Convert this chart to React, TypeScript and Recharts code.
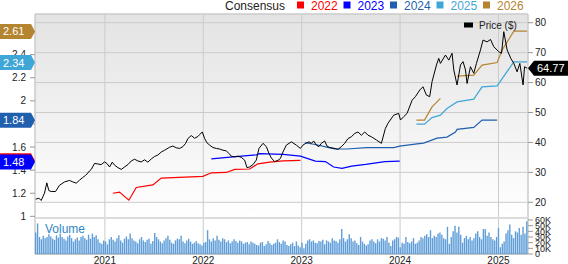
import { ComposedChart, Line, Bar, XAxis, YAxis, CartesianGrid, ReferenceLine } from 'recharts';

const FONT = '"Liberation Sans", Arial, sans-serif';

const yearTicks = [2021, 2022, 2023, 2024, 2025];
const priceTicks = [20, 30, 40, 50, 60, 70, 80];
const epsTicks = [1, 1.2, 1.4, 1.6, 1.8, 2, 2.2, 2.4, 2.6];
// these tick labels sit fully under the latest-estimate tags
const epsTicksUnderTags = [1.8, 2.6];
const volumeTicks = [0, 10000, 20000, 30000, 40000, 50000, 60000];

// [decimal year, closing price]
const price: [number, number][] = [
  [2020.295, 21.0], [2020.329, 21.4], [2020.353, 20.6], [2020.387, 23.1], [2020.41, 26.5], [2020.431, 23.9],
  [2020.455, 23.6], [2020.499, 23.6], [2020.539, 25.7], [2020.59, 26.8], [2020.641, 27.3], [2020.675, 26.8],
  [2020.709, 26.4], [2020.743, 27.4], [2020.776, 28.3], [2020.804, 29.0], [2020.827, 29.8], [2020.844, 30.5],
  [2020.862, 31.0], [2020.895, 33.0], [2020.929, 32.8], [2020.963, 32.6], [2020.997, 33.5], [2021.02, 33.0],
  [2021.048, 31.8], [2021.075, 33.4], [2021.099, 32.4], [2021.132, 31.6], [2021.167, 31.0], [2021.2, 31.8],
  [2021.234, 32.6], [2021.268, 33.8], [2021.302, 34.4], [2021.336, 33.8], [2021.37, 33.5], [2021.404, 34.2],
  [2021.437, 33.4], [2021.472, 34.5], [2021.505, 35.3], [2021.539, 35.8], [2021.573, 36.8], [2021.607, 37.4],
  [2021.658, 38.4], [2021.691, 38.8], [2021.726, 38.2], [2021.76, 38.0], [2021.793, 38.6], [2021.821, 39.7],
  [2021.844, 41.3], [2021.878, 42.3], [2021.912, 41.4], [2021.946, 42.0], [2021.963, 42.6], [2021.99, 43.5],
  [2022.014, 41.3], [2022.037, 39.9], [2022.065, 39.1], [2022.098, 38.3], [2022.133, 38.0], [2022.166, 37.8],
  [2022.2, 37.4], [2022.234, 37.2], [2022.261, 36.3], [2022.285, 35.4], [2022.319, 35.2], [2022.352, 35.4],
  [2022.387, 35.0], [2022.42, 34.1], [2022.444, 31.6], [2022.471, 31.8], [2022.505, 32.6], [2022.539, 34.1],
  [2022.566, 38.0], [2022.607, 39.7], [2022.641, 38.6], [2022.668, 36.3], [2022.692, 34.8], [2022.725, 33.6],
  [2022.758, 34.0], [2022.783, 34.6], [2022.81, 36.8], [2022.844, 39.1], [2022.895, 40.2], [2022.946, 39.1],
  [2022.987, 38.0], [2023.013, 39.1], [2023.041, 39.7], [2023.074, 40.2], [2023.099, 39.7], [2023.122, 40.5],
  [2023.149, 39.1], [2023.176, 38.6], [2023.2, 39.7], [2023.234, 40.5], [2023.257, 38.8], [2023.285, 38.3],
  [2023.336, 38.0], [2023.369, 37.7], [2023.404, 38.6], [2023.437, 39.7], [2023.471, 41.3], [2023.505, 41.9],
  [2023.539, 43.0], [2023.572, 43.5], [2023.607, 42.4], [2023.641, 43.5], [2023.674, 42.4], [2023.709, 41.9],
  [2023.76, 40.8], [2023.81, 39.7], [2023.851, 44.7], [2023.877, 46.4], [2023.935, 49.1], [2023.986, 49.7],
  [2024.004, 47.5], [2024.037, 48.6], [2024.071, 49.7], [2024.122, 54.1], [2024.156, 55.3], [2024.2, 57.5],
  [2024.233, 58.6], [2024.268, 55.8], [2024.301, 55.3], [2024.325, 60.3], [2024.37, 65.9], [2024.393, 68.1],
  [2024.41, 66.4], [2024.461, 69.2], [2024.495, 67.5], [2024.528, 69.8], [2024.546, 64.2], [2024.579, 59.2],
  [2024.614, 65.9], [2024.64, 67.0], [2024.665, 64.2], [2024.681, 59.7], [2024.715, 65.3], [2024.749, 63.1],
  [2024.776, 66.4], [2024.817, 70.9], [2024.843, 74.2], [2024.884, 73.6], [2024.919, 74.4], [2024.952, 72.0],
  [2025.003, 70.3], [2025.031, 69.8], [2025.054, 77.0], [2025.088, 70.9], [2025.125, 68.1], [2025.156, 66.4],
  [2025.189, 63.6], [2025.217, 66.4], [2025.25, 59.2], [2025.265, 65.3], [2025.291, 64.77],
];

// consensus EPS estimates per fiscal year: [decimal year, estimate]
const eps2022: [number, number | null][] = [
  [2021.081, 1.2], [2021.149, 1.21], [2021.244, 1.14], [2021.319, 1.25], [2021.488, 1.272], [2021.573, 1.331],
  [2021.996, 1.346], [2022.082, 1.377], [2022.234, 1.38], [2022.319, 1.407], [2022.471, 1.41], [2022.556, 1.455],
  [2022.675, 1.47], [2022.81, 1.481], [2022.987, 1.484],
];
const eps2023: [number, number | null][] = [
  [2022.082, 1.497], [2022.301, 1.515], [2022.539, 1.533], [2022.573, 1.543], [2022.81, 1.537], [2022.987, 1.522],
  [2023.139, 1.478], [2023.241, 1.474], [2023.325, 1.427], [2023.41, 1.416], [2023.508, 1.435], [2023.651, 1.45],
  [2023.844, 1.474], [2023.996, 1.478],
];
const eps2024: [number, number | null][] = [
  [2023.031, 1.637], [2023.152, 1.62], [2023.254, 1.6], [2023.336, 1.584], [2023.458, 1.583], [2023.661, 1.595],
  [2023.936, 1.595], [2023.996, 1.608], [2024.172, 1.628], [2024.24, 1.634], [2024.376, 1.677], [2024.477, 1.686],
  [2024.563, 1.73], [2024.579, 1.753], [2024.749, 1.77], [2024.833, 1.833], [2024.986, 1.833],
];
const eps2025: [number, number | null][] = [
  [2024.166, 1.798], [2024.248, 1.798], [2024.325, 1.855], [2024.41, 1.876], [2024.477, 1.934], [2024.579, 1.991],
  [2024.749, 2.015], [2024.833, 2.121], [2024.986, 2.13], [2025.156, 2.337], [2025.291, 2.337],
];
const eps2026: [number, number | null][] = [
  [2024.166, 1.833], [2024.248, 1.833], [2024.325, 1.948], [2024.41, 2.021], [2024.5, null], [2024.579, 2.214],
  [2024.749, 2.222], [2024.833, 2.309], [2024.986, 2.332], [2025.04, 2.445], [2025.156, 2.603], [2025.291, 2.603],
];

// weekly volume in thousands, mid-April 2020 to mid-April 2025
const volumeK = [
  38, 54, 30, 26, 32, 28, 30, 35, 31, 27, 25,
  33, 29, 36, 30, 27, 24, 31, 34, 28, 22, 26, 29, 24,
  30, 32, 28, 25, 34, 27, 36, 30, 33, 26, 20, 18, 24,
  22, 17, 26, 30, 25, 22, 28, 33, 24, 20, 27, 31, 26,
  36, 28, 24, 22, 19, 26, 30, 24, 21, 25, 27, 18, 23,
  37, 30, 26, 22, 19, 24, 28, 32, 25, 20, 18, 24, 27,
  26, 32, 22, 19, 24, 27, 22, 18, 20, 23, 19, 17, 15,
  20, 21, 42, 26, 22, 28, 24, 32, 25, 22, 28, 26, 21,
  24, 19, 22, 26, 23, 20, 24, 22, 18, 20, 21, 17, 22,
  20, 18, 16, 15, 20, 21, 14, 17, 23, 19, 16, 18, 20,
  26, 21, 18, 24, 22, 16, 14, 17, 20, 14, 22, 15, 12,
  20, 10, 18, 24, 26, 22, 24, 20, 19, 23, 22, 25, 17,
  24, 22, 20, 28, 24, 23, 20, 26, 44, 28, 22, 26, 35,
  28, 22, 24, 19, 16, 30, 22, 18, 15, 17, 24, 26, 22,
  19, 26, 22, 28, 27, 24, 30, 20, 14, 24, 26, 30, 29,
  12, 20, 18, 30, 21, 19, 22, 28, 18, 20, 24, 30, 28,
  32, 35, 30, 42, 28, 32, 30, 36, 38, 34, 28, 26, 48,
  18, 30, 40, 50, 38, 48, 34, 20, 28, 32, 26, 30, 24,
  28, 36, 40, 30, 26, 44, 44, 32, 38, 30, 26, 24, 30,
  46, 12, 18, 22, 36, 42, 52, 34, 28, 40, 38, 46, 34,
  48, 36, 58,
];

const lastPrice = 64.77;
const seriesColors: Record<string, string> = {
  '2022': '#ff0000',
  '2023': '#0000ff',
  '2024': '#1f5fae',
  '2025': '#3fa6d8',
  '2026': '#b5842f',
};
const finalEstimates = [
  { year: '2022', value: 1.49, text: '1.48' },
  { year: '2023', value: 1.48, text: '1.48' },
  { year: '2024', value: 1.84, text: '1.84' },
  { year: '2025', value: 2.34, text: '2.34' },
  { year: '2026', value: 2.61, text: '2.61' },
];
const legendYears = ['2022', '2023', '2024', '2025', '2026'];

const volumeRows = volumeK.map((v, i) => ({ week: i, v: v * 1000 }));
const toRows = (pts: [number, number | null][]) => pts.map(([t, v]) => ({ t, v }));
const priceRows = price.map(([t, p]) => ({ t, p }));

const epsSeries = [
  { year: '2022', rows: toRows(eps2022) },
  { year: '2023', rows: toRows(eps2023) },
  { year: '2024', rows: toRows(eps2024) },
  { year: '2025', rows: toRows(eps2025) },
  { year: '2026', rows: toRows(eps2026) },
];

const EPS_DOMAIN = [0.674, 2.752];
const PRICE_DOMAIN = [2.73, 82.91];
const VOL_DOMAIN = [0, 423500];
const MARGIN = { top: 14, right: 0, bottom: 0, left: 0 };

const leftTag = (color: string, text: string) => (props: any) => {
  const { viewBox } = props;
  const x = viewBox.x;
  const y = viewBox.y + 1;
  return (
    <g>
      <path d={`M${x - 35},${y - 7.5}H${x - 4}L${x},${y}L${x - 4},${y + 7.5}H${x - 35}Z`} fill={color} />
      <text x={x - 32} y={y + 4} fill="#fff" fontSize={11} fontFamily={FONT}>{text}</text>
    </g>
  );
};

const priceTag = (props: any) => {
  const { viewBox } = props;
  const x = viewBox.x + viewBox.width;
  const y = viewBox.y;
  return (
    <g>
      <path d={`M${x},${y}L${x + 6},${y - 7.5}H${x + 40}V${y + 7.5}H${x + 6}Z`} fill="#000" />
      <text x={x + 9} y={y + 4} fill="#fff" fontSize={11} fontFamily={FONT}>{lastPrice.toFixed(2)}</text>
    </g>
  );
};

export default function App() {
  return (
    <div style={{ position: 'absolute', left: 0, top: 0, width: 568, height: 264, overflow: 'hidden', background: '#fff' }}>
      {/* price + consensus panel */}
      <ComposedChart width={568} height={264} margin={MARGIN} style={{ fontFamily: FONT }}>
        <defs>
          <linearGradient id="panelBg" x1="0" y1="0" x2="0" y2="1">
            <stop offset="0%" stopColor="#e3e3e3" />
            <stop offset="85%" stopColor="#ffffff" />
            <stop offset="100%" stopColor="#ffffff" />
          </linearGradient>
        </defs>
        <CartesianGrid yAxisId="price" stroke="#cbcbcb" fill="url(#panelBg)" fillOpacity={1} />
        <XAxis
          dataKey="t"
          type="number"
          domain={[2020.29, 2025.3]}
          allowDataOverflow
          ticks={yearTicks}
          tickFormatter={(v) => String(v)}
          height={10}
          tickSize={0}
          tickMargin={3}
          axisLine={{ stroke: '#c4c4c4', strokeWidth: 2 }}
          tick={{ fontSize: 10, fill: '#222' }}
        />
        <YAxis
          yAxisId="eps"
          orientation="left"
          width={35}
          domain={EPS_DOMAIN}
          allowDataOverflow
          ticks={epsTicks}
          interval={0}
          tickFormatter={(v) => (epsTicksUnderTags.includes(v) ? '' : String(v))}
          tickSize={5}
          tickMargin={4}
          axisLine={{ stroke: '#cbcbcb' }}
          tickLine={{ stroke: '#999' }}
          tick={{ fontSize: 10, fill: '#222' }}
        />
        <YAxis
          yAxisId="price"
          orientation="right"
          width={40}
          domain={PRICE_DOMAIN}
          allowDataOverflow
          ticks={priceTicks}
          interval={0}
          tickSize={5}
          tickMargin={2}
          axisLine={{ stroke: '#cbcbcb' }}
          tickLine={{ stroke: '#999' }}
          tick={{ fontSize: 10, fill: '#222' }}
        />
        <ReferenceLine yAxisId="price" y={PRICE_DOMAIN[1]} stroke="#cbcbcb" />
        <ReferenceLine yAxisId="price" y={14.78} stroke="#dcdcdc" strokeWidth={2} />
        {epsSeries.map((s) => (
          <Line
            key={s.year}
            yAxisId="eps"
            data={s.rows}
            dataKey="v"
            type="linear"
            stroke={seriesColors[s.year]}
            strokeWidth={1.2}
            dot={false}
            connectNulls={false}
            isAnimationActive={false}
          />
        ))}
        <Line
          yAxisId="price"
          data={priceRows}
          dataKey="p"
          type="linear"
          stroke="#000"
          strokeWidth={1}
          dot={false}
          isAnimationActive={false}
        />
      </ComposedChart>

      {/* volume bars and value tags, drawn on top */}
      <ComposedChart
        width={568}
        height={264}
        data={volumeRows}
        margin={{ top: 14, right: 0, bottom: 10, left: 35 }}
        style={{ position: 'absolute', left: 0, top: 0, fontFamily: FONT }}
      >
        <XAxis dataKey="week" type="category" hide />
        <YAxis yAxisId="eps" domain={EPS_DOMAIN} allowDataOverflow hide />
        <YAxis yAxisId="price" domain={PRICE_DOMAIN} allowDataOverflow hide />
        <YAxis
          yAxisId="vol"
          orientation="right"
          width={40}
          domain={VOL_DOMAIN}
          allowDataOverflow
          ticks={volumeTicks}
          interval={0}
          tickFormatter={(v) => (v === 0 ? '0' : `${v / 1000}K`)}
          tickSize={5}
          tickMargin={2}
          axisLine={false}
          tickLine={{ stroke: '#999' }}
          tick={{ fontSize: 9, fill: '#222' }}
        />
        <Bar yAxisId="vol" dataKey="v" fill="#5e9dd9" barSize={1.4} isAnimationActive={false} />
        {finalEstimates.map((f) => (
          <ReferenceLine
            key={f.year}
            yAxisId="eps"
            y={f.value}
            stroke="none"
            strokeOpacity={0}
            label={leftTag(seriesColors[f.year], f.text)}
          />
        ))}
        <ReferenceLine yAxisId="price" y={lastPrice} stroke="none" strokeOpacity={0} label={priceTag} />
      </ComposedChart>

      <svg width={568} height={264} style={{ position: 'absolute', left: 0, top: 0, pointerEvents: 'none' }} fontFamily={FONT}>
        <text x={225} y={9.5} fontSize={12} fill="#222">Consensus</text>
        {legendYears.map((y, i) => (
          <g key={y}>
            <rect x={297 + i * 46.5} y={1.5} width={7} height={7} fill={seriesColors[y]} />
            <text x={311 + i * 46.5} y={9.5} fontSize={12} fill={seriesColors[y]}>{y}</text>
          </g>
        ))}
        <rect x={464} y={22.5} width={9} height={5} fill="#000" />
        <text x={479} y={29} fontSize={10} fill="#222">Price ($)</text>
        <text x={45} y={232.5} fontSize={12} fill="#2e86c8">Volume</text>
      </svg>
    </div>
  );
}
